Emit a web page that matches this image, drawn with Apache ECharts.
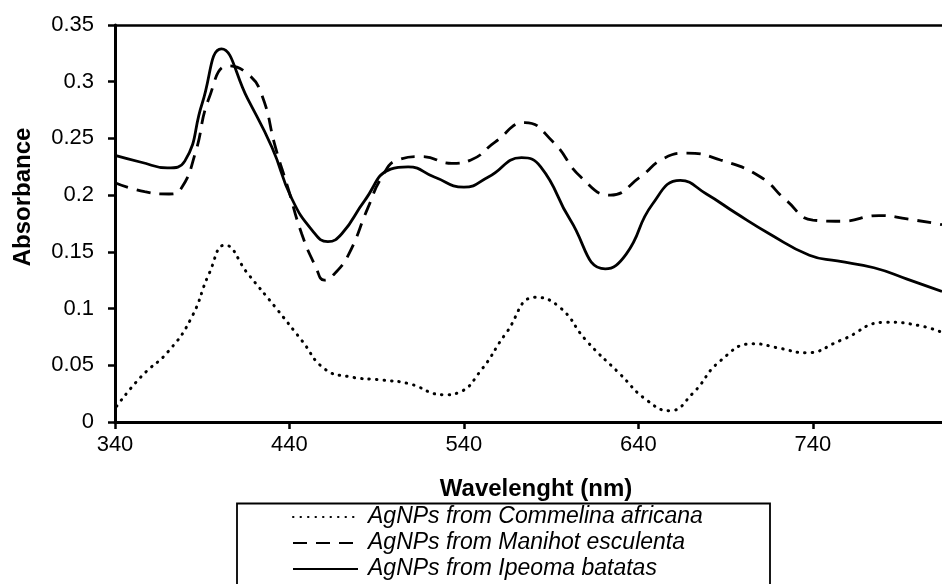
<!DOCTYPE html>
<html>
<head>
<meta charset="utf-8">
<script src="https://cdn.jsdelivr.net/npm/echarts@6/dist/echarts.min.js"></script>
<style>
  html, body { margin: 0; padding: 0; background: #fff; }
  #chart { width: 942px; height: 584px; }
</style>
</head>
<body>
<div id="chart"></div>
<script>
// Wavelength (nm) and absorbance readings for each series
const commelinaWl = [341,355,371,384,394,403,416,432,447,460,474,493,508,529,537,550,564,581,595,610,629,645,658,671,687,706,721,736,756,782,801,814];
const commelinaAbs = [0.014,0.040,0.063,0.0925,0.131,0.156,0.131,0.101,0.072,0.047,0.040,0.037,0.034,0.024,0.026,0.046,0.078,0.110,0.101,0.072,0.043,0.019,0.010,0.025,0.054,0.069,0.065,0.061,0.072,0.088,0.085,0.079];

const manihotWl = [340,357,371,378,386,394,405,416,424,432,439,447,455,460,466,474,485,493,502,516,533,544,558,575,591,607,624,641,654,668,687,710,725,740,756,778,794,814];
const manihotAbs = [0.211,0.203,0.201,0.206,0.237,0.286,0.314,0.307,0.289,0.242,0.207,0.166,0.137,0.125,0.131,0.148,0.189,0.216,0.231,0.234,0.228,0.231,0.247,0.264,0.247,0.216,0.200,0.216,0.232,0.237,0.231,0.216,0.195,0.178,0.177,0.182,0.179,0.174];

const ipeomaWl = [340,355,370,380,390,401,416,430,441,453,462,470,483,498,508,523,540,554,573,584,601,621,633,648,664,679,696,715,738,754,775,794,814];
const ipeomaAbs = [0.235,0.229,0.224,0.230,0.281,0.329,0.285,0.242,0.198,0.169,0.159,0.166,0.195,0.223,0.225,0.216,0.207,0.216,0.233,0.225,0.178,0.135,0.148,0.192,0.213,0.201,0.184,0.166,0.147,0.142,0.136,0.126,0.115];

const seriesNames = ['AgNPs from Commelina africana', 'AgNPs from Manihot esculenta', 'AgNPs from Ipeoma batatas'];
const xTitle = 'Wavelenght (nm)';
const yTitle = 'Absorbance';

function pairs(xs, ys) { return xs.map((x, i) => [x, ys[i]]); }

const FONT = "'Liberation Sans', Arial, sans-serif";
const chart = echarts.init(document.getElementById('chart'), null, { renderer: 'canvas' });

const axisBase = {
  type: 'value',
  min: 340, max: 814, interval: 100,
};

chart.setOption({
  backgroundColor: '#fff',
  animation: false,
  grid: { left: 115, right: 0, top: 25, bottom: 162, containLabel: false },
  xAxis: [
    Object.assign({}, axisBase, {
      position: 'bottom',
      axisLine: { show: true, lineStyle: { color: '#000', width: 3 } },
      axisTick: { show: true, inside: false, length: 7, lineStyle: { color: '#000', width: 2.5 } },
      axisLabel: { show: true, showMaxLabel: false, margin: 12, color: '#000', fontSize: 22, fontFamily: FONT },
      splitLine: { show: false }
    }),
    Object.assign({}, axisBase, {
      position: 'top',
      axisLine: { show: true, lineStyle: { color: '#000', width: 2.5 } },
      axisTick: { show: false },
      axisLabel: { show: false },
      splitLine: { show: false }
    })
  ],
  yAxis: {
    type: 'value', min: 0, max: 0.35, interval: 0.05,
    axisLine: { show: true, lineStyle: { color: '#000', width: 3 } },
    axisTick: { show: true, inside: false, length: 7, lineStyle: { color: '#000', width: 2.5 } },
    axisLabel: { margin: 21, color: '#000', fontSize: 22, fontFamily: FONT },
    splitLine: { show: false }
  },
  legend: {
    orient: 'vertical',
    left: 292, top: 505,
    padding: 0,
    itemGap: 2,
    itemWidth: 65, itemHeight: 14,
    itemStyle: { opacity: 0 },
    textStyle: { color: '#000', fontSize: 23, fontStyle: 'italic', fontFamily: FONT, lineHeight: 24, padding: [0, 0, 0, 5] },
    data: seriesNames
  },
  graphic: [
    { type: 'rect', shape: { x: 237, y: 503.5, width: 533, height: 120 }, style: { fill: 'none', stroke: '#000', lineWidth: 1.8 }, silent: true },
    { type: 'text', x: 23, y: 197, rotation: Math.PI / 2, style: { text: yTitle, font: 'bold 24px ' + FONT, fill: '#000', textAlign: 'center', textVerticalAlign: 'middle' } },
    { type: 'text', x: 536, y: 489, style: { text: xTitle, font: 'bold 24px ' + FONT, fill: '#000', textAlign: 'center', textVerticalAlign: 'middle' } }
  ],
  series: [
    {
      name: seriesNames[0], type: 'line', smooth: 0.5, symbol: 'none', showSymbol: false,
      data: pairs(commelinaWl, commelinaAbs),
      lineStyle: { color: '#000', width: 3, type: [0.5, 7], cap: 'round' },
      itemStyle: { color: '#000' }
    },
    {
      name: seriesNames[1], type: 'line', smooth: 0.5, symbol: 'none', showSymbol: false,
      data: pairs(manihotWl, manihotAbs),
      lineStyle: { color: '#000', width: 2.8, type: [14, 9] },
      itemStyle: { color: '#000' }
    },
    {
      name: seriesNames[2], type: 'line', smooth: 0.5, symbol: 'none', showSymbol: false,
      data: pairs(ipeomaWl, ipeomaAbs),
      lineStyle: { color: '#000', width: 2.8, type: 'solid' },
      itemStyle: { color: '#000' }
    }
  ]
});
</script>
</body>
</html>
